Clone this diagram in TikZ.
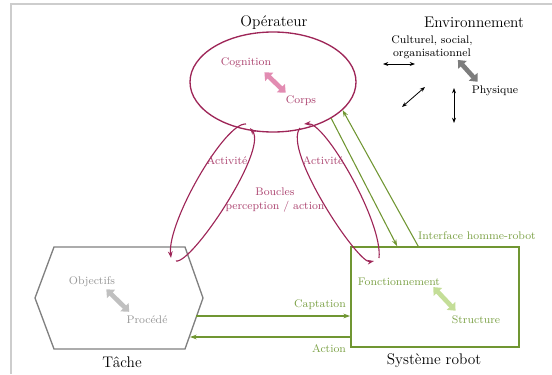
\documentclass[tikz,border=0pt]{standalone}
\usetikzlibrary{arrows.meta,shapes.geometric}
\definecolor{opc}{RGB}{158,38,88}
\definecolor{optext}{RGB}{172,68,112}
\definecolor{oparr}{RGB}{226,140,178}
\definecolor{rbc}{RGB}{112,150,50}
\definecolor{rbtext}{RGB}{125,162,72}
\definecolor{rbarr}{RGB}{196,222,152}
\definecolor{tkc}{RGB}{128,128,128}
\definecolor{tktext}{RGB}{150,150,150}
\definecolor{tkarr}{RGB}{192,192,192}
\definecolor{envarr}{RGB}{125,125,125}
\definecolor{framec}{RGB}{205,205,205}
\begin{document}
\begin{tikzpicture}[x=0.75pt,y=-0.75pt,
  title/.style={font=\fontsize{11.5}{13}\selectfont, inner sep=0pt},
  lab/.style={font=\fontsize{8.3}{10}\selectfont, inner sep=0pt, align=center},
  bigarr/.style={line width=3.5pt, {Triangle[length=5pt,width=8.5pt]}-{Triangle[length=5pt,width=8.5pt]}},
  thinarr/.style={line width=0.6pt, {Stealth[length=4pt,width=3pt]}-{Stealth[length=4pt,width=3pt]}},
  garr/.style={rbc, line width=0.8pt, -{Stealth[length=5pt,width=3.5pt]}},
  looparr/.style={opc, line width=0.85pt, -{Stealth[length=5pt,width=3.5pt]}},
]
\useasboundingbox (0,0) rectangle (552,374);
\draw[framec, line width=0.8pt] (11,374) -- (11,4) -- (552,4);

% Operateur
\node[draw=opc, line width=1pt, ellipse, minimum width=124.5pt, minimum height=75pt, inner sep=0pt] (op) at (273,82) {};
\node[title] (opT) at (274,23) {Opérateur};
\node[lab, text=optext] (cog) at (246,63) {Cognition};
\node[lab, text=optext] (corps) at (301,101) {Corps};
\draw[bigarr, oparr] ([shift={(-7,4)}]cog.south east) -- ([shift={(0,-3)}]corps.north west);

% Environnement
\node[title] (envT) at (474,22) {Environnement};
\node[lab] (cult) at (432,47) {Culturel, social,\\organisationnel};
\node[lab] (phys) at (495,91) {Physique};
\draw[bigarr, envarr] ([shift={(-15,1)}]cult.south east) -- ([shift={(6,-4)}]phys.north west);
\coordinate (h1) at (383,64);
\coordinate (h2) at (415,64);
\coordinate (d1) at (402,107);
\coordinate (d2) at (425,87);
\coordinate (v1) at (454,88);
\coordinate (v2) at (454,123);
\draw[thinarr] (h1) -- (h2);
\draw[thinarr] (d1) -- (d2);
\draw[thinarr] (v1) -- (v2);

% Tache
\draw[tkc, line width=1pt] (35,298) coordinate (tkW) -- (54,247) -- (185,247) -- (203,298) coordinate (tkE) -- (185,349) -- (54,349) -- cycle;
\node[title] (tkT) at (122,362) {Tâche};
\node[lab, text=tktext] (obj) at (92,282) {Objectifs};
\node[lab, text=tktext] (proc) at (147,320) {Procédé};
\draw[bigarr, tkarr] ([shift={(-9,2)}]obj.south east) -- ([shift={(3,-4)}]proc.north west);

% Systeme robot
\node[draw=rbc, line width=1.3pt, minimum width=126pt, minimum height=75pt, inner sep=0pt] (robot) at (435,297) {};
\node[title] (rbT) at (434,361) {Système robot};
\node[lab, text=rbtext] (fonc) at (399,282) {Fonctionnement};
\node[lab, text=rbtext] (struc) at (476,320) {Structure};
\draw[bigarr, rbarr] ([shift={(-7,1)}]fonc.south east) -- ([shift={(4,-5)}]struc.north west);

% Interface homme-robot
\draw[garr] (op.-32.5) -- ([shift={(47,0)}]robot.north west);
\draw[garr] ([shift={(68,0)}]robot.north west) -- (op.-22);
\node[lab, text=rbtext] (ihr) at (477,236) {Interface homme-robot};

% Captation / Action
\coordinate (cap0) at (196,316);
\coordinate (act0) at (190,337);
\draw[garr] (cap0) -- (cap0 -| robot.west);
\draw[garr] (robot.west |- act0) -- (act0);
\node[lab, text=rbtext] (capL) at (320,305) {Captation};
\node[lab, text=rbtext] (actL) at (329,349) {Action};

% Boucles perception / action
\coordinate (l1) at (246,124);
\coordinate (l2) at (171,258);
\coordinate (l3) at (176,261);
\coordinate (l4) at (250,128);
\draw[looparr] (l1) .. controls (225,122) and (167,222) .. (l2);
\draw[looparr] (l3) .. controls (192,264) and (268,150) .. (l4);
\coordinate (r1) at (300,128);
\coordinate (r2) at (374,261);
\coordinate (r3) at (379,258);
\coordinate (r4) at (304,124);
\draw[looparr] (r1) .. controls (282,150) and (358,264) .. (r2);
\draw[looparr] (r3) .. controls (383,222) and (325,122) .. (r4);
\node[lab, text=optext] (actg) at (227,161) {Activité};
\node[lab, text=optext] (actd) at (323,161) {Activité};
\node[lab, text=optext] (boucles) at (275,200) {Boucles\\perception / action};
\end{tikzpicture}
\end{document}
